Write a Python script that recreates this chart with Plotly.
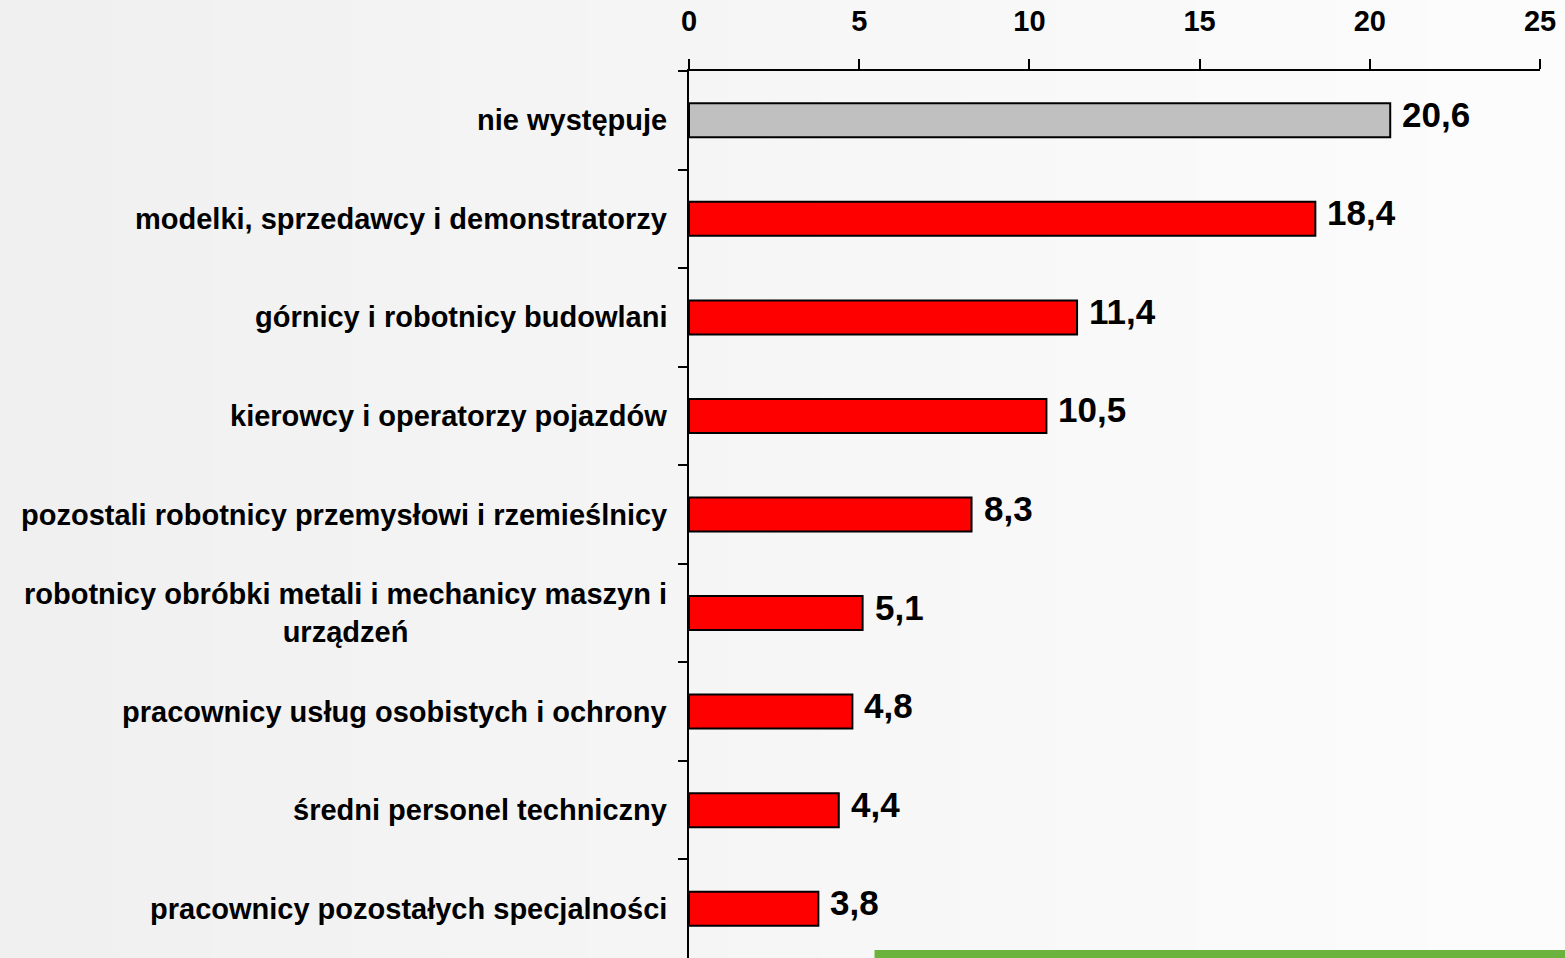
# Occupation breakdown - horizontal bar chart
import plotly.graph_objects as go

categories = [
    "nie występuje",
    "modelki, sprzedawcy i demonstratorzy",
    "górnicy i robotnicy budowlani",
    "kierowcy i operatorzy pojazdów",
    "pozostali robotnicy przemysłowi i rzemieślnicy",
    "robotnicy obróbki metali i mechanicy maszyn i<br>urządzeń",
    "pracownicy usług osobistych i ochrony",
    "średni personel techniczny",
    "pracownicy pozostałych specjalności",
]
values = [20.6, 18.4, 11.4, 10.5, 8.3, 5.1, 4.8, 4.4, 3.8]
bar_colors = ["#c0c0c0"] + ["#ff0000"] * 8
x_ticks = [0, 5, 10, 15, 20, 25]

FONT = "Liberation Sans"

fig = go.Figure(go.Bar(
    x=values, y=categories, orientation="h",
    marker=dict(color=bar_colors, line=dict(color="black", width=2)),
    hoverinfo="x+y",
))

# category labels (annotations so the two-line label is centred)
for cat in categories:
    fig.add_annotation(x=0, xref="paper", y=cat, yref="y", text=cat,
                       xanchor="right", xshift=-20, align="center",
                       showarrow=False,
                       font=dict(family=FONT, size=29, color="black", weight="bold"))

# value labels
for cat, v in zip(categories, values):
    fig.add_annotation(x=v, y=cat, text=f"{v:.1f}".replace(".", ","),
                       xanchor="left", xshift=10, yshift=6, showarrow=False,
                       font=dict(family=FONT, size=35, color="black", weight="bold"))

# soft grey-to-white background
n = 40
shapes = []
for i in range(n):
    g = int(239 + (254 - 239) * i / (n - 1))
    shapes.append(dict(type="rect", xref="paper", yref="paper", layer="below",
                       x0=-1 + 2.2 * i / n, x1=-1 + 2.2 * (i + 1) / n + 0.01,
                       y0=-0.1, y1=1.2, line=dict(width=0),
                       fillcolor=f"rgb({g},{g},{g})"))
# green band at the bottom right
shapes.append(dict(type="rect", xref="paper", yref="paper", layer="above",
                   x0=0.218, x1=1.05, y0=-0.002, y1=0.009,
                   line=dict(width=0), fillcolor="#6cb33e"))

fig.update_layout(
    width=1565, height=958,
    margin=dict(l=689, r=25, t=71, b=0),
    paper_bgcolor="#f4f4f4", plot_bgcolor="rgba(0,0,0,0)",
    bargap=0.655, showlegend=False,
    font=dict(family=FONT, color="black"),
    shapes=shapes,
    xaxis=dict(side="top", range=[0, 25], tickvals=x_ticks,
               showgrid=False, zeroline=False,
               showline=True, linecolor="black", linewidth=2,
               ticks="outside", ticklen=10, tickwidth=2, tickcolor="black",
               ticklabelstandoff=16,
               tickfont=dict(family=FONT, size=29, color="black", weight="bold")),
    yaxis=dict(autorange="reversed", showticklabels=False, showgrid=False,
               showline=True, linecolor="black", linewidth=2,
               ticks="outside", ticklen=9, tickwidth=2, tickcolor="black",
               tickson="boundaries"),
)

fig.write_html("out.html", config={"displayModeBar": False},
               post_script="document.body.style.margin='0';")
